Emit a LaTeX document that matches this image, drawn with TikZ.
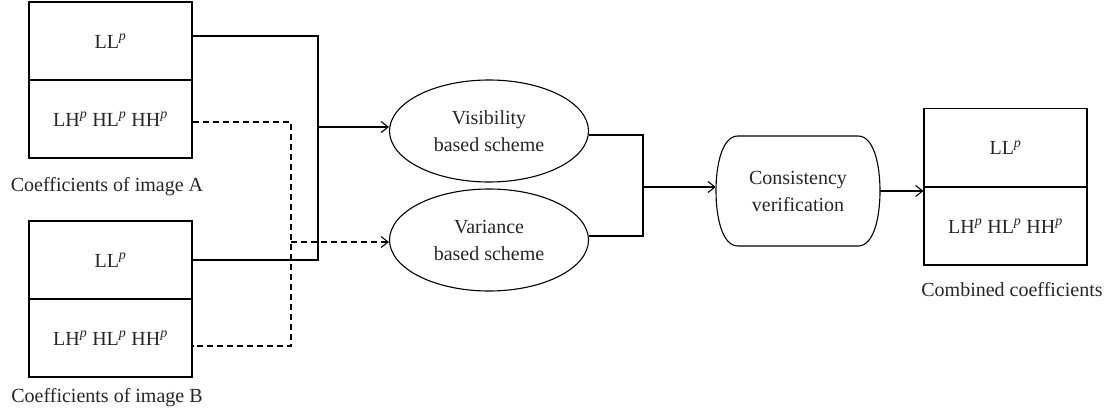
\documentclass[tikz,border=0pt]{standalone}
\usepackage{fontspec}
\setmainfont{Liberation Serif}
\usetikzlibrary{shapes.geometric,arrows.meta}
\newcommand{\Pp}{\textsuperscript{\itshape p}}
\begin{document}
\begin{tikzpicture}[x=1pt,y=-1pt,
  every node/.style={font=\fontsize{20}{27}\selectfont, text=black!85},
  cell/.style={draw, line width=1.1pt, minimum width=163pt, minimum height=78pt, inner sep=0pt},
  oval/.style={draw, ellipse, line width=1.1pt, minimum width=199pt, minimum height=102pt, inner sep=0pt, align=center},
  conn/.style={line width=1.1pt},
  dconn/.style={line width=1.1pt, dash pattern=on 6pt off 4pt},
  arr/.style={-{Straight Barb[length=7pt,width=11pt,line width=1.1pt]}}
]
\useasboundingbox (0,0) rectangle (1113,417);
% coefficient boxes
\node[cell] (aLL) at (110.5,41) {LL\Pp};
\node[cell] (aH) at (110.5,119) {LH\Pp{} HL\Pp{} HH\Pp};
\node (labA) at (107,187) {Coefficients of image A};
\node[cell] (bLL) at (110.5,260) {LL\Pp};
\node[cell] (bH) at (110.5,338) {LH\Pp{} HL\Pp{} HH\Pp};
\node (labB) at (107,398) {Coefficients of image B};
\node[cell] (cLL) at (1005.5,147.5) {LL\Pp};
\node[cell] (cH) at (1005.5,226) {LH\Pp{} HL\Pp{} HH\Pp};
\node (labC) at (1012,290) {Combined coefficients};
% schemes
\node[oval] (vis) at (489,131) {Visibility\\based scheme};
\node[oval] (var) at (489,240) {Variance\\based scheme};
% consistency
\node[minimum width=164pt, minimum height=110pt, inner sep=0pt, align=center] (cons) at (798,191) {Consistency\\verification};
\draw[line width=1.1pt] (738,136) -- (858,136) .. controls (874,136) and (880,165) .. (880,191)
  .. controls (880,217) and (874,246) .. (858,246) -- (738,246)
  .. controls (722,246) and (716,217) .. (716,191)
  .. controls (716,165) and (722,136) .. (738,136) -- cycle;
% junction coordinates
\coordinate (jA) at (318,36);
\coordinate (jB) at (318,260);
\coordinate (jV) at (318,127);
\coordinate (dA) at (291,122);
\coordinate (dB) at (291,346);
\coordinate (dV) at (291,242);
\coordinate (oV) at (643,135);
\coordinate (oW) at (643,236);
\coordinate (oM) at (643,187);
% connectors
\draw[conn] ([yshift=5pt]aLL.east) -- (jA) -- (jB) -- (bLL.east);
\draw[conn,arr] (jV) -- (jV -| vis.west);
\draw[dconn] ([yshift=-3pt]aH.east) -- (dA) -- (dB) -- ([yshift=-8pt]bH.east);
\draw[dconn,arr] (dV) -- (dV -| var.west);
\draw[conn] ([yshift=-4pt]vis.east) -- (oV) -- (oW) -- ([yshift=4pt]var.east);
\draw[conn,arr] (oM) -- (oM -| cons.west);
\draw[conn,arr] (cons.east) -- (cons.east -| cH.west);
\end{tikzpicture}
\end{document}
